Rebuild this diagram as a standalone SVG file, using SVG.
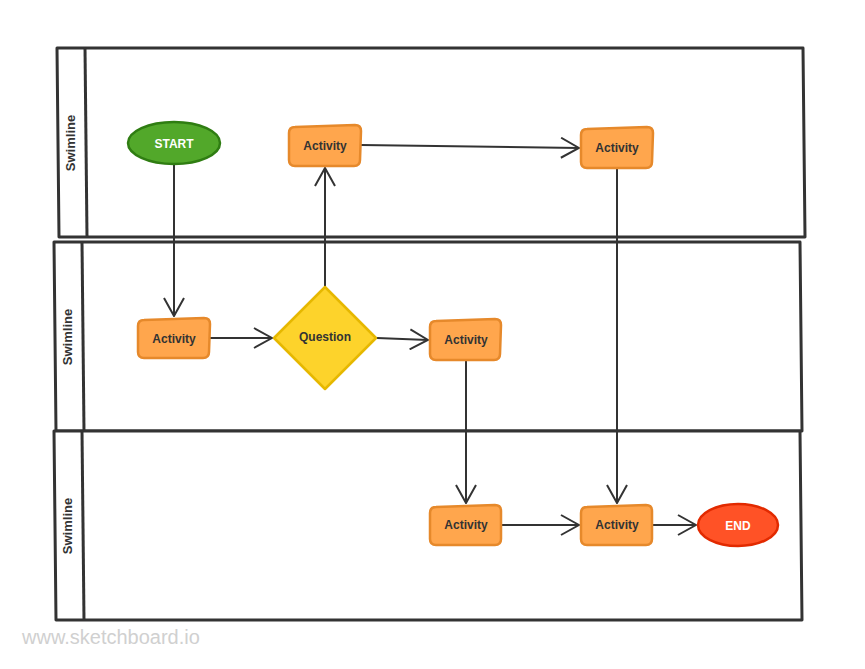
<svg xmlns="http://www.w3.org/2000/svg" width="865" height="669" viewBox="0 0 865 669">
<style>
.lane{fill:#fff;stroke:#333;stroke-width:3;stroke-linejoin:round}
.div{fill:none;stroke:#333;stroke-width:3}
.lbl{font-family:"Liberation Sans",Arial,sans-serif;font-size:13px;font-weight:bold;fill:#333;text-anchor:middle}
.act{fill:#ffa64d;stroke:#e6892b;stroke-width:2.5;stroke-linejoin:round}
.t{font-family:"Liberation Sans",Arial,sans-serif;font-size:12px;font-weight:bold;fill:#333;text-anchor:middle}
.tw{font-family:"Liberation Sans",Arial,sans-serif;font-size:12px;font-weight:bold;fill:#fff;text-anchor:middle}
.c{fill:none;stroke:#333;stroke-width:2}
</style>
<defs>
<marker id="arr" markerUnits="userSpaceOnUse" viewBox="0 0 20 22" refX="19" refY="11" markerWidth="20" markerHeight="22" orient="auto">
<path d="M1,1 L19,11 L1,21" fill="none" stroke="#333" stroke-width="2"/>
</marker>
</defs>
<rect width="865" height="669" fill="#fff"/>
<g id="lane1">
<path class="lane" d="M57,48 L803,48 L805,237 L59,237 Z"/>
<path class="div" d="M85,48 L87,237"/>
<text class="lbl" transform="translate(75,143) rotate(-90)">Swimline</text>
</g>
<g id="lane2">
<path class="lane" d="M54,242 L800,242 L802,431 L56,431 Z"/>
<path class="div" d="M82,242 L84,431"/>
<text class="lbl" transform="translate(72,337) rotate(-90)">Swimline</text>
</g>
<g id="lane3">
<path class="lane" d="M54,431 L800,431 L802,620 L56,620 Z"/>
<path class="div" d="M82,431 L84,620"/>
<text class="lbl" transform="translate(72,526) rotate(-90)">Swimline</text>
</g>
<g id="connectors">
<path class="c" d="M174,164 L174,316" marker-end="url(#arr)"/>
<path class="c" d="M210,338 L272,338" marker-end="url(#arr)"/>
<path class="c" d="M325,287 L325,168" marker-end="url(#arr)"/>
<path class="c" d="M361,145 L579,148" marker-end="url(#arr)"/>
<path class="c" d="M377,338 L428,340" marker-end="url(#arr)"/>
<path class="c" d="M617,168 L617,503" marker-end="url(#arr)"/>
<path class="c" d="M466,360 L466,503" marker-end="url(#arr)"/>
<path class="c" d="M501,525 L579,525" marker-end="url(#arr)"/>
<path class="c" d="M653,525 L696,525" marker-end="url(#arr)"/>
</g>
<g id="start">
<ellipse cx="174" cy="143" rx="46" ry="21" fill="#52a82a" stroke="#2f7d12" stroke-width="2.5"/>
<text class="tw" x="174" y="147.5">START</text>
</g>
<g id="act1">
<path class="act" d="M295,127 L355,125 Q361,125 361,131 L360,160 Q360,166 354,166 L295,166 Q289,166 289,160 L289,133 Q289,127 295,127 Z"/>
<text class="t" x="325" y="150">Activity</text>
</g>
<g id="act2">
<path class="act" d="M587,129 L647,127 Q653,127 653,133 L652,162 Q652,168 646,168 L587,168 Q581,168 581,162 L581,135 Q581,129 587,129 Z"/>
<text class="t" x="617" y="152">Activity</text>
</g>
<g id="act3">
<path class="act" d="M144,320 L204,318 Q210,318 210,324 L209,352 Q209,358 203,358 L144,358 Q138,358 138,352 L138,326 Q138,320 144,320 Z"/>
<text class="t" x="174" y="343">Activity</text>
</g>
<g id="question">
<path d="M325,287 L376,338 L325,389 L274,338 Z" fill="#fdd32b" stroke="#e6b800" stroke-width="2.5" stroke-linejoin="round"/>
<text class="t" x="325" y="341">Question</text>
</g>
<g id="act4">
<path class="act" d="M436,321 L495,319 Q501,319 501,325 L500,354 Q500,360 494,360 L436,360 Q430,360 430,354 L430,327 Q430,321 436,321 Z"/>
<text class="t" x="466" y="344">Activity</text>
</g>
<g id="act5">
<path class="act" d="M436,507 L495,505 Q501,505 501,511 L501,539 Q501,545 495,545 L436,545 Q430,545 430,539 L430,513 Q430,507 436,507 Z"/>
<text class="t" x="466" y="529">Activity</text>
</g>
<g id="act6">
<path class="act" d="M587,507 L646,505 Q652,505 652,511 L652,539 Q652,545 646,545 L587,545 Q581,545 581,539 L581,513 Q581,507 587,507 Z"/>
<text class="t" x="617" y="529">Activity</text>
</g>
<g id="end">
<ellipse cx="738" cy="525" rx="40" ry="21" fill="#ff5226" stroke="#e22a00" stroke-width="2.5"/>
<text class="tw" x="738" y="529.5">END</text>
</g>
<text x="22" y="644" font-family="Liberation Sans,Arial,sans-serif" font-size="20" fill="#d0d0d0">www.sketchboard.io</text>
</svg>
